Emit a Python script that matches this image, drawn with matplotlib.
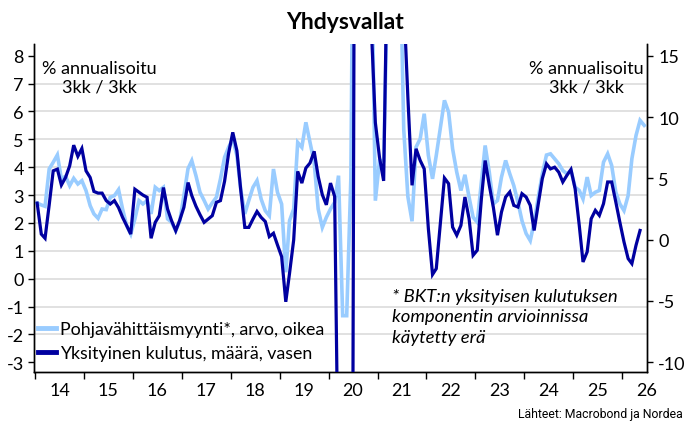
import matplotlib
matplotlib.use("Agg")
import matplotlib.pyplot as plt
import matplotlib.dates as mdates
from matplotlib.ticker import FixedLocator, NullFormatter
from matplotlib.lines import Line2D
import numpy as np
import pandas as pd

# ---------------- data ----------------
# monthly, 3m/3m annualised %, starting Jan 2014
start_month = "2014-01-01"

# Private consumption, volume (left axis)
consumption = [
    2.71, 1.6, 1.45, 2.65, 3.87, 3.93, 3.36, 3.63, 4.05, 4.79, 4.39, 4.67,   # 2014
    3.87, 3.63, 3.13, 3.07, 3.07, 2.8, 2.68, 2.8, 2.55, 2.2, 1.9, 1.6,       # 2015
    3.21, 3.1, 3.0, 2.92, 1.45, 2.02, 2.26, 3.27, 2.5, 2.08, 1.72, 2.1,      # 2016
    2.56, 3.45, 2.98, 2.6, 2.3, 2.02, 2.14, 2.26, 2.74, 2.8, 3.5, 4.5,       # 2017
    5.25, 4.59, 3.21, 1.84, 1.84, 2.14, 2.41, 2.2, 2.05, 1.51, 1.63, 1.21,   # 2018
    0.79, -0.83, 0.19, 1.39, 3.85, 3.43, 3.97, 4.15, 4.57, 3.67, 3.01, 2.65, # 2019
    3.43, 2.95, -8.0, -45.0, -50.0, -30.0, 20.0, 60.0, 35.0, 20.0, 9.0, 5.6, # 2020
    4.35, 3.51, 12.0, 15.0, 14.0, 11.0, 10.0, 6.5, 3.35, 4.66, 4.24, 3.94,   # 2021
    1.79, 0.15, 0.36, 2.03, 3.61, 3.41, 1.85, 1.56, 1.91, 2.93, 2.15, 0.84,  # 2022
    1.02, 2.87, 4.24, 3.35, 2.57, 1.56, 2.39, 2.93, 3.11, 2.63, 2.57, 3.05,  # 2023
    2.93, 2.63, 1.73, 2.69, 3.59, 4.12, 3.94, 4.0, 3.82, 3.47, 3.71, 3.92,   # 2024
    3.23, 1.91, 0.6, 0.96, 2.15, 2.45, 2.27, 2.69, 3.47, 3.47, 2.75, 2.03,   # 2025
    1.32, 0.72, 0.54, 1.2, 1.73,                                             # 2026
]

# Control group retail sales, value (right axis)
retail = [
    2.99, 2.83, 2.72, 5.77, 6.31, 6.91, 4.95, 5.17, 4.40, 5.0, 4.54, 4.81,   # 2014
    4.0, 2.77, 2.10, 1.74, 2.5, 2.45, 3.46, 3.59, 4.08, 2.5, 1.14, 0.46,     # 2015
    1.69, 3.18, 2.91, 3.18, 2.10, 4.27, 4.0, 4.27, 1.69, 1.42, 0.73, 1.5,    # 2016
    3.6, 5.8, 6.44, 5.22, 3.87, 3.2, 2.5, 3.0, 3.46, 4.95, 6.72, 7.54,       # 2017
    8.21, 6.85, 4.14, 2.10, 3.2, 4.27, 4.81, 3.31, 2.36, 1.95, 5.76, 3.86,   # 2018
    2.9, -2.66, 1.55, 2.5, 7.93, 7.53, 9.57, 7.93, 6.3, 2.5, 1.0, 1.82,      # 2019
    2.5, 3.04, 5.22, -6.2, -6.2, 5.0, 45.0, 35.0, 25.0, 20.0, 25.0, 3.18,    # 2020
    6.44, 6.44, 20.0, 30.0, 25.0, 25.0, 9.0, 3.5, 1.5, 7.55, 8.23, 10.27,    # 2021
    6.87, 4.96, 6.87, 9.18, 11.36, 10.41, 7.41, 5.5, 4.01, 5.29, 3.46, 1.83, # 2022
    1.42, 4.69, 7.68, 5.5, 2.92, 3.19, 5.1, 6.46, 5.37, 4.41, 3.05, 1.55,    # 2023
    0.5, -0.08, 1.42, 3.46, 5.37, 6.9, 7.0, 6.6, 6.19, 5.64, 5.37, 5.64,     # 2024
    4.28, 4.01, 3.32, 5.1, 3.6, 3.87, 4.01, 6.32, 7.0, 6.05, 3.87, 2.92,     # 2025
    2.37, 3.6, 6.6, 8.5, 9.73, 9.32,                                         # 2026
]

year_labels = ["14", "15", "16", "17", "18", "19", "20", "21", "22", "23", "24", "25", "26"]
left_ticks = [-3, -2, -1, 0, 1, 2, 3, 4, 5, 6, 7, 8]
right_ticks = [-10, -5, 0, 5, 10, 15]

label_retail = "Pohjavähittäismyynti*, arvo, oikea"
label_cons = "Yksityinen kulutus, määrä, vasen"
note = "* BKT:n yksityisen kulutuksen\nkomponentin arvioinnissa\nkäytetty erä"
unit_text = "% annualisoitu\n3kk / 3kk"
title = "Yhdysvallat"
source = "Lähteet: Macrobond ja Nordea"

# ---------------- style ----------------
DARK = "#0000A0"
LIGHT = "#99CCFF"
GRID = "#DCDCDC"
FONT = ["Lato", "DejaVu Sans"]
plt.rcParams["font.family"] = FONT

dates_c = pd.date_range(start_month, periods=len(consumption), freq="MS") + pd.Timedelta(days=14)
dates_r = pd.date_range(start_month, periods=len(retail), freq="MS") + pd.Timedelta(days=14)

fig = plt.figure(figsize=(6.9, 4.35), dpi=100)
ax2 = fig.add_axes([0.0486, 0.1418, 0.8891, 0.7547])   # right axis (behind)
ax = fig.add_axes(ax2.get_position(), sharex=ax2)        # left axis (front)
ax.set_zorder(ax2.get_zorder() + 1)
ax.patch.set_visible(False)

# axis mapping: right = (left - 1.4) / 0.44
lylim = (-3.36, 8.42)
ax.set_ylim(*lylim)
to_right = lambda v: (v - 1.4) / 0.44
ax2.set_ylim(to_right(lylim[0]), to_right(lylim[1]))

ax2.plot(dates_r, retail, color=LIGHT, lw=2.6, solid_joinstyle="miter", zorder=3)
ax.plot(dates_c, consumption, color=DARK, lw=2.3, solid_joinstyle="miter", zorder=3)

# x axis
ax.set_xlim(pd.Timestamp("2013-12-19"), pd.Timestamp("2026-07-06"))
major = [pd.Timestamp(f"20{y}-01-01") for y in year_labels]
minor = [pd.Timestamp(f"20{y}-07-01") for y in year_labels]
ax.xaxis.set_major_locator(FixedLocator(mdates.date2num(major)))
ax.xaxis.set_major_formatter(NullFormatter())
ax.set_xticks(mdates.date2num(minor), year_labels, minor=True)
ax.tick_params(axis="x", which="major", length=5, width=1, direction="out", color="black")
ax.tick_params(axis="x", which="minor", length=0, labelsize=13, pad=7)

# left axis
ax.set_yticks(left_ticks)
ax.set_yticklabels([str(t) for t in left_ticks])
ax.tick_params(axis="y", which="major", length=4, width=1, labelsize=13, pad=3, left=True, right=False)

# right axis
ax2.set_yticks(right_ticks)
ax2.set_yticklabels([str(t) for t in right_ticks])
ax2.yaxis.tick_right()
ax2.tick_params(axis="y", which="major", length=4, width=1, labelsize=13, pad=4)
ax2.yaxis.set_minor_locator(FixedLocator([to_right(v) for v in left_ticks]))
ax2.tick_params(axis="y", which="minor", length=0)
ax2.grid(True, which="minor", axis="y", color=GRID, lw=1.2, zorder=0)
ax2.tick_params(axis="x", which="both", bottom=False, labelbottom=False)

for a in (ax, ax2):
    a.spines["top"].set_visible(False)
    for s in ("left", "right", "bottom"):
        a.spines[s].set_color("black")
        a.spines[s].set_linewidth(1.0)

# texts
ax.text(0.108, 0.952, unit_text, transform=ax.transAxes, ha="center", va="top",
        fontsize=13, linespacing=1.2)
ax.text(0.901, 0.952, unit_text, transform=ax.transAxes, ha="center", va="top",
        fontsize=13, linespacing=1.2)
ax.text(0.584, 0.257, note, transform=ax.transAxes, ha="left", va="top",
        fontsize=13.3, style="italic", linespacing=1.33)

handles = [Line2D([], [], color=LIGHT, lw=3.5), Line2D([], [], color=DARK, lw=3.5)]
ax.legend(handles, [label_retail, label_cons], loc="lower left",
          bbox_to_anchor=(-0.012, 0.0), frameon=False, fontsize=12.8,
          handlelength=1.05, handletextpad=0.2, labelspacing=0.45, borderaxespad=0.25)

fig.text(0.5, 0.949, title, ha="center", va="center", fontsize=16.5, fontweight="bold")
fig.text(0.99, 0.046, source, ha="right", va="center", fontsize=8.8,
         family=["Roboto", "DejaVu Sans"], stretch="condensed")

fig.savefig("out.png", dpi=100)
